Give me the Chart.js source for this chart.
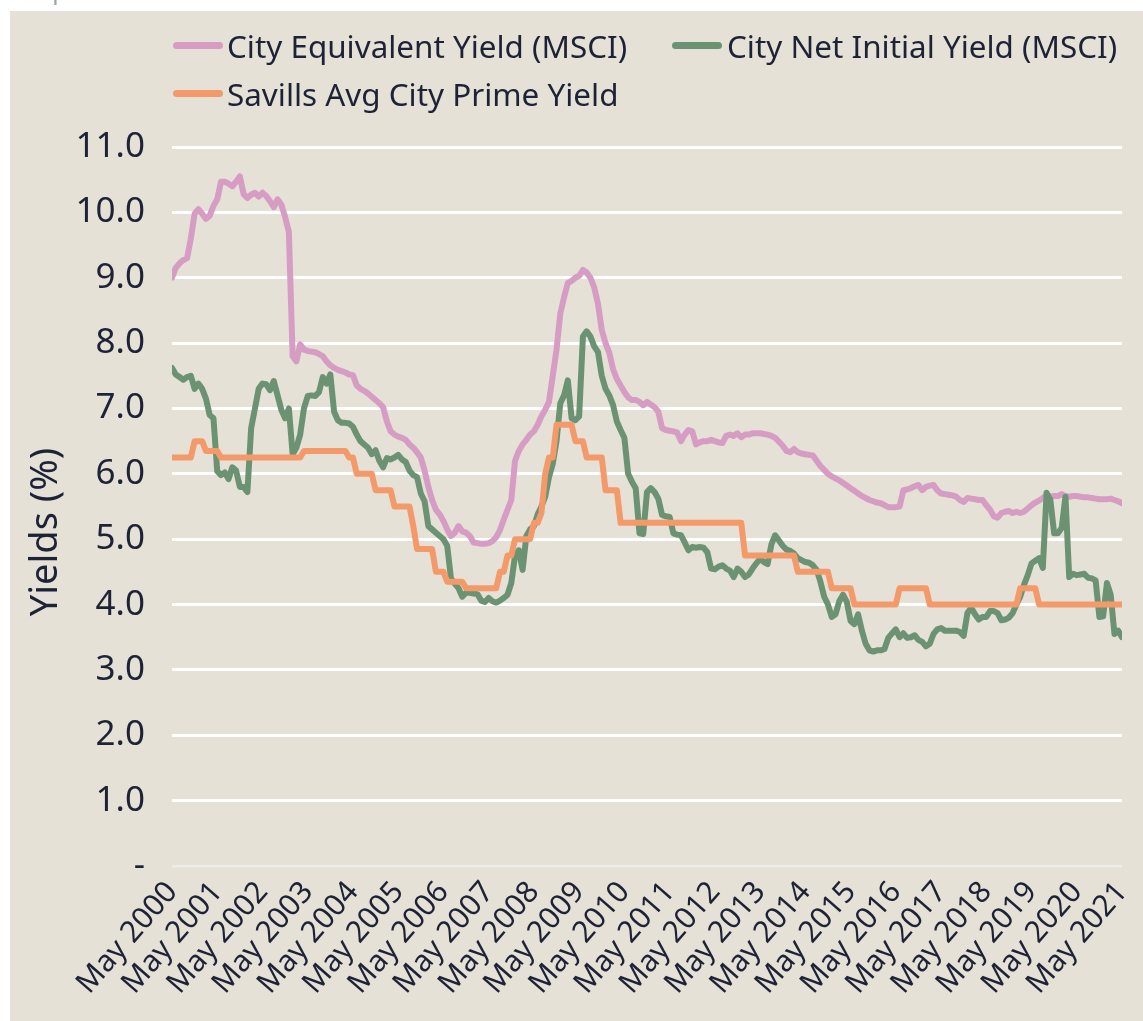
<!DOCTYPE html>
<html><head><meta charset="utf-8">
<script src="https://cdn.jsdelivr.net/npm/chart.js@4.4.1/dist/chart.umd.min.js"></script>
<style>
html,body{margin:0;padding:0;background:#ffffff;width:1143px;height:1021px;overflow:hidden;font-family:"Noto Sans",sans-serif;}
#caption{position:absolute;left:12px;top:-25px;font-size:24px;line-height:30px;color:#9aa3ab;}
#panel{position:absolute;left:10px;top:11px;width:1133px;height:1010px;background:#E5E1D6;}
#c{position:absolute;left:0;top:0;}
.lg{position:absolute;height:7px;width:50px;border-radius:3.5px;}
.lt{position:absolute;font-size:31.4px;line-height:40px;color:#1E2236;white-space:nowrap;}
#ytitle{position:absolute;left:-98px;top:498px;width:260px;height:46px;line-height:46px;text-align:center;font-size:38px;color:#1E2236;transform:rotate(-90deg);white-space:nowrap;}
</style></head>
<body>
<div id="caption">Graph 6</div>
<div id="panel">
<canvas id="c" width="1133" height="1010" style="width:1133px;height:1010px"></canvas>
<div id="legend"></div>
<div id="ytitle">Yields (%)</div>
</div>
<script>
// Monthly data, May 2000 .. May 2021 (253 months)
const tickLabels = ["May 2000","May 2001","May 2002","May 2003","May 2004","May 2005","May 2006","May 2007","May 2008","May 2009","May 2010","May 2011","May 2012","May 2013","May 2014","May 2015","May 2016","May 2017","May 2018","May 2019","May 2020","May 2021"];
const yTickLabels = ["-","1.0","2.0","3.0","4.0","5.0","6.0","7.0","8.0","9.0","10.0","11.0"];
const seriesNames = ["City Equivalent Yield (MSCI)","City Net Initial Yield (MSCI)","Savills Avg City Prime Yield"];

const equivalentYield = [
9.0,9.15,9.22,9.27,9.3,9.6,9.98,10.05,9.98,9.9,
9.95,10.1,10.2,10.47,10.47,10.44,10.4,10.47,10.55,10.28,
10.22,10.27,10.3,10.24,10.3,10.25,10.17,10.08,10.2,10.12,
9.93,9.7,7.8,7.72,7.98,7.9,7.88,7.87,7.86,7.83,
7.8,7.72,7.66,7.62,7.59,7.57,7.55,7.52,7.51,7.35,
7.3,7.27,7.23,7.18,7.13,7.08,7.02,6.8,6.65,6.6,
6.57,6.55,6.52,6.45,6.4,6.33,6.25,6.05,5.8,5.6,
5.45,5.38,5.28,5.15,5.05,5.1,5.2,5.12,5.1,5.05,
4.95,4.94,4.93,4.93,4.94,4.97,5.03,5.14,5.3,5.45,
5.6,6.2,6.35,6.45,6.52,6.6,6.65,6.75,6.88,6.98,
7.1,7.5,7.9,8.45,8.7,8.92,8.95,9.0,9.03,9.12,
9.08,9.0,8.85,8.6,8.2,8.0,7.85,7.6,7.45,7.35,
7.25,7.17,7.13,7.13,7.1,7.05,7.1,7.06,7.02,6.95,
6.7,6.67,6.66,6.65,6.63,6.5,6.6,6.67,6.65,6.45,
6.48,6.5,6.5,6.52,6.5,6.48,6.47,6.58,6.6,6.58,
6.62,6.56,6.6,6.6,6.62,6.62,6.62,6.61,6.6,6.58,
6.55,6.49,6.43,6.35,6.33,6.38,6.33,6.31,6.3,6.29,
6.28,6.2,6.12,6.06,6.0,5.96,5.93,5.9,5.86,5.82,
5.78,5.74,5.7,5.66,5.63,5.6,5.58,5.56,5.55,5.52,
5.49,5.49,5.49,5.5,5.75,5.76,5.78,5.81,5.83,5.75,
5.8,5.82,5.83,5.75,5.7,5.69,5.68,5.67,5.65,5.6,
5.57,5.63,5.62,5.61,5.6,5.6,5.52,5.45,5.35,5.33,
5.4,5.42,5.43,5.4,5.42,5.4,5.42,5.47,5.52,5.56,
5.59,5.63,5.68,5.65,5.66,5.66,5.69,5.66,5.65,5.66,
5.66,5.65,5.64,5.64,5.63,5.62,5.61,5.61,5.61,5.62,
5.6,5.58,5.55];

const netInitialYield = [
7.62,7.52,7.48,7.44,7.48,7.5,7.3,7.38,7.3,7.15,
6.9,6.85,6.04,5.98,6.02,5.92,6.1,6.05,5.8,5.8,
5.72,6.7,7.0,7.3,7.38,7.37,7.28,7.42,7.2,6.98,
6.85,7.0,6.3,6.4,6.6,7.0,7.19,7.2,7.19,7.25,
7.48,7.38,7.52,6.95,6.82,6.78,6.78,6.77,6.72,6.6,
6.5,6.45,6.4,6.3,6.36,6.2,6.1,6.24,6.22,6.25,
6.29,6.22,6.18,6.05,5.98,5.95,5.7,5.58,5.2,5.15,
5.1,5.05,5.0,4.9,4.4,4.32,4.25,4.12,4.18,4.18,
4.17,4.16,4.06,4.04,4.1,4.05,4.03,4.06,4.1,4.15,
4.33,4.75,4.83,4.53,5.05,5.15,5.2,5.38,5.5,5.65,
5.95,6.15,6.5,7.08,7.2,7.43,6.85,6.82,6.88,8.1,
8.18,8.1,7.95,7.86,7.5,7.3,7.2,7.05,6.8,6.67,
6.55,6.0,5.88,5.78,5.09,5.08,5.72,5.78,5.72,5.62,
5.37,5.35,5.34,5.09,5.07,5.06,4.95,4.83,4.88,4.87,
4.88,4.87,4.8,4.55,4.54,4.58,4.6,4.55,4.52,4.42,
4.55,4.5,4.42,4.46,4.55,4.63,4.7,4.65,4.62,4.92,
5.06,4.98,4.9,4.84,4.82,4.78,4.71,4.68,4.65,4.64,
4.6,4.53,4.35,4.12,4.0,3.81,3.85,4.05,4.15,4.04,
3.75,3.7,3.85,3.6,3.4,3.3,3.28,3.3,3.3,3.32,
3.49,3.56,3.62,3.5,3.56,3.49,3.5,3.53,3.46,3.43,
3.36,3.4,3.55,3.62,3.64,3.6,3.6,3.6,3.6,3.58,
3.52,3.87,3.95,3.85,3.77,3.81,3.81,3.9,3.9,3.87,
3.76,3.77,3.8,3.87,4.0,4.12,4.3,4.45,4.63,4.67,
4.71,4.56,5.71,5.6,5.09,5.09,5.17,5.65,4.42,4.47,
4.45,4.46,4.47,4.41,4.4,4.37,3.81,3.82,4.33,4.15,
3.55,3.6,3.5];

const savillsPrime = [
6.25,6.25,6.25,6.25,6.25,6.25,6.5,6.5,6.5,6.35,6.35,6.35,
6.35,6.25,6.25,6.25,6.25,6.25,6.25,6.25,6.25,6.25,6.25,6.25,
6.25,6.25,6.25,6.25,6.25,6.25,6.25,6.25,6.25,6.25,6.25,6.35,
6.35,6.35,6.35,6.35,6.35,6.35,6.35,6.35,6.35,6.35,6.35,6.25,
6.25,6.0,6.0,6.0,6.0,6.0,5.75,5.75,5.75,5.75,5.75,5.5,
5.5,5.5,5.5,5.5,5.2,4.85,4.85,4.85,4.85,4.85,4.5,4.5,
4.5,4.35,4.35,4.35,4.35,4.35,4.25,4.25,4.25,4.25,4.25,4.25,
4.25,4.25,4.25,4.5,4.5,4.75,4.75,5.0,5.0,5.0,5.0,5.0,
5.25,5.25,5.4,6.0,6.25,6.25,6.75,6.75,6.75,6.75,6.75,6.5,
6.5,6.5,6.25,6.25,6.25,6.25,6.25,5.75,5.75,5.75,5.75,5.25,
5.25,5.25,5.25,5.25,5.25,5.25,5.25,5.25,5.25,5.25,5.25,5.25,
5.25,5.25,5.25,5.25,5.25,5.25,5.25,5.25,5.25,5.25,5.25,5.25,
5.25,5.25,5.25,5.25,5.25,5.25,5.25,5.25,4.75,4.75,4.75,4.75,
4.75,4.75,4.75,4.75,4.75,4.75,4.75,4.75,4.75,4.75,4.5,4.5,
4.5,4.5,4.5,4.5,4.5,4.5,4.5,4.25,4.25,4.25,4.25,4.25,
4.25,4.0,4.0,4.0,4.0,4.0,4.0,4.0,4.0,4.0,4.0,4.0,
4.0,4.25,4.25,4.25,4.25,4.25,4.25,4.25,4.25,4.0,4.0,4.0,
4.0,4.0,4.0,4.0,4.0,4.0,4.0,4.0,4.0,4.0,4.0,4.0,
4.0,4.0,4.0,4.0,4.0,4.0,4.0,4.0,4.0,4.25,4.25,4.25,
4.25,4.25,4.0,4.0,4.0,4.0,4.0,4.0,4.0,4.0,4.0,4.0,
4.0,4.0,4.0,4.0,4.0,4.0,4.0,4.0,4.0,4.0,4.0,4.0,
4.0];

const colors = ["#D69CC4","#6B9373","#F3996A"];
const TXT = "#1E2236";
const FONT = "'Noto Sans', sans-serif";

// HTML legend
const lgPos = [{mx:163,my:31,tx:217,ty:15},{mx:662,my:31,tx:717,ty:15},{mx:163,my:79,tx:217,ty:63}];
const legend = document.getElementById('legend');
seriesNames.forEach((n,i)=>{
  const m=document.createElement('div'); m.className='lg';
  m.style.left=lgPos[i].mx+'px'; m.style.top=lgPos[i].my+'px'; m.style.background=colors[i];
  const t=document.createElement('div'); t.className='lt';
  t.style.left=lgPos[i].tx+'px'; t.style.top=lgPos[i].ty+'px'; t.textContent=n;
  legend.appendChild(m); legend.appendChild(t);
});

const toXY = arr => arr.map((v,i)=>({x:i,y:v}));
const series = [equivalentYield, netInitialYield, savillsPrime];
const orders = [2,1,0];

new Chart(document.getElementById('c'), {
  type:'line',
  data:{datasets: series.map((s,i)=>({
    label: seriesNames[i], data: toXY(s), borderColor: colors[i], backgroundColor: colors[i],
    borderWidth: 6, pointRadius: 0, tension: 0, borderJoinStyle:'round', borderCapStyle:'round', order: orders[i]
  }))},
  options:{
    responsive:false, animation:false, devicePixelRatio:1,
    layout:{padding:{top:136,right:21,bottom:0,left:0}},
    plugins:{legend:{display:false}, tooltip:{enabled:false}},
    scales:{
      x:{type:'linear', min:0, max:252, offset:false,
        grid:{display:false, drawTicks:false}, border:{display:false},
        ticks:{stepSize:12, autoSkip:false, maxRotation:49, minRotation:49, padding:9, color:TXT,
          font:{family:FONT, size:30},
          callback:(v)=> (v%12===0 ? tickLabels[v/12] : '')},
        afterFit:(s)=>{ s.height = 155; s.paddingRight = 0; }
      },
      y:{min:0, max:11,
        grid:{color:(c)=> c.tick && c.tick.value===0 ? '#EEECE9' : '#FFFFFF', lineWidth:(c)=> c.tick && c.tick.value===0 ? 2.5 : 3, drawTicks:false},
        border:{display:false},
        ticks:{stepSize:1, padding:27, color:TXT, font:{family:FONT, size:35},
          callback:(v)=> yTickLabels[v]},
        afterFit:(s)=>{ s.width = 162; }
      }
    }
  }
});
</script>
</body></html>
